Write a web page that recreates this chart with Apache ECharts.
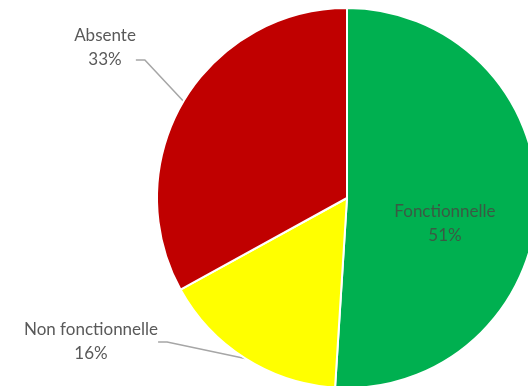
<!DOCTYPE html>
<html>
<head>
<meta charset="utf-8">
<script src="https://cdn.jsdelivr.net/npm/echarts@6/dist/echarts.min.js"></script>
<style>
  html, body { margin: 0; padding: 0; background: #fff; }
  #pie { width: 528px; height: 386px; }
</style>
</head>
<body>
<div id="pie"></div>
<script>
var categories = ['Fonctionnelle', 'Non fonctionnelle', 'Absente'];
var shares = [51, 16, 33];
var colors = ['#00B050', '#FFFF00', '#C00000'];

var chart = echarts.init(document.getElementById('pie'));

var data = [];
for (var i = 0; i < categories.length; i++) {
    data.push({
        name: categories[i],
        value: shares[i],
        itemStyle: { color: colors[i] }
    });
}
// inside label for the big slice
data[0].label = { position: 'inside', color: '#3a5a44' };
// empty last line so the leader line meets the "33%" row
data[2].label = { formatter: '{b}\n{c}%\n ' };

var option = {
    backgroundColor: '#fff',
    animation: false,
    series: [{
        type: 'pie',
        center: [347, 198],
        radius: 190,
        startAngle: 90,
        clockwise: true,
        avoidLabelOverlap: false,
        itemStyle: { borderColor: '#fff', borderWidth: 2 },
        label: {
            show: true,
            formatter: '{b}\n{c}%',
            fontFamily: 'Lato',
            fontSize: 17,
            lineHeight: 24,
            color: '#595959',
            align: 'center'
        },
        labelLine: {
            show: true,
            length: 40,
            length2: 9,
            lineStyle: { color: '#a6a6a6', width: 1.5 }
        },
        labelLayout: function (p) {
            if (p.dataIndex === 0) {
                return { dy: 22 };
            }
            if (p.dataIndex === 1) {
                return { x: 91, y: 342, align: 'center', verticalAlign: 'middle' };
            }
            return { x: 105, y: 60, align: 'center', verticalAlign: 'middle' };
        },
        data: data
    }]
};

chart.setOption(option);
</script>
</body>
</html>
